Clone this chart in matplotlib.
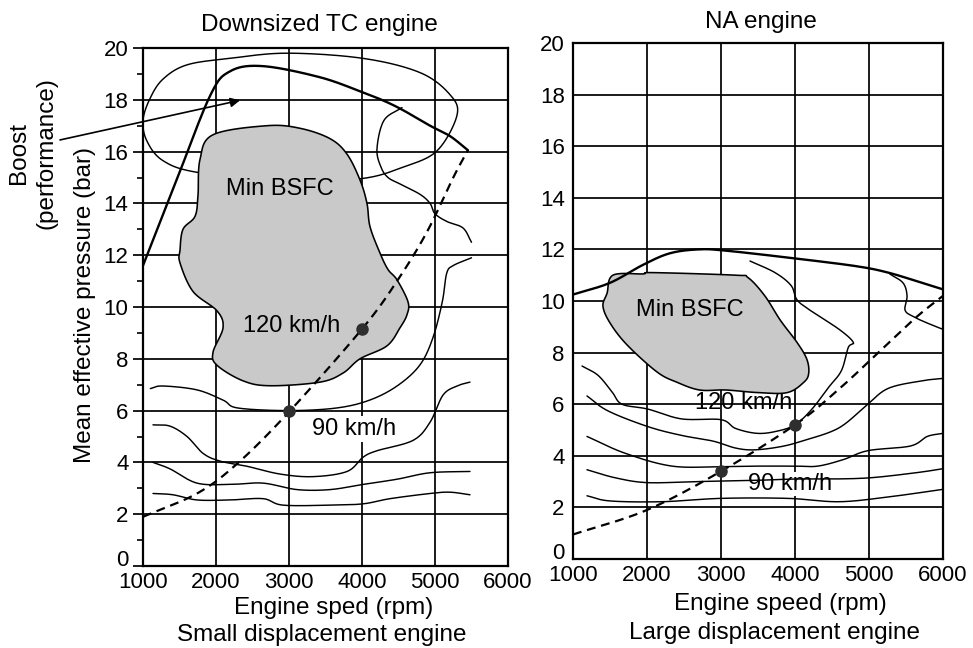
import numpy as np
import matplotlib
matplotlib.use("Agg")
import matplotlib.pyplot as plt
from matplotlib.patches import Polygon

plt.rcParams['font.family'] = ['Liberation Sans', 'DejaVu Sans']

# ---------------- Downsized turbocharged engine ----------------
tc_full_rpm = [1000, 1460, 1918, 2192, 2644, 3425, 4000, 4301, 4562, 4932, 5205, 5452]
tc_full_bmep = [11.6, 14.9, 18.15, 19.1, 19.3, 18.87, 18.3, 17.96, 17.6, 17.0, 16.6, 16.05]

tc_boost_rpm = [1000, 1096, 1274, 1603, 2192, 2973, 4014, 4795, 5205, 5301, 5027, 4562,
                3973, 2900, 1740, 1274, 1055]
tc_boost_bmep = [17.2, 18.05, 18.8, 19.35, 19.6, 19.8, 19.6, 19.05, 18.2, 17.4, 16.03, 15.4,
                 14.95, 14.85, 15.2, 15.65, 16.4]

tc_bsfc_rpm = [2699, 3151, 3562, 3795, 3973, 4068, 4110, 4247, 4356, 4479, 4630, 4616, 4521,
               4342, 3973, 3740, 3425, 2740, 2370, 2014, 1959, 2096, 2014, 1685, 1507, 1507,
               1548, 1712, 1753, 1781, 1959]
tc_bsfc_bmep = [17.0, 16.9, 16.5, 15.9, 14.9, 14.0, 13.1, 12.08, 11.45, 11.05, 10.2, 9.7, 9.2,
                8.5, 8.0, 7.45, 7.1, 6.96, 7.15, 7.75, 8.25, 9.2, 9.85, 10.6, 11.7, 12.2,
                13.0, 13.5, 14.3, 15.7, 16.65]

tc_road_rpm = [1000, 1740, 2290, 3000, 4000, 4480, 4890, 5250, 5450]
tc_road_bmep = [1.9, 2.8, 3.95, 5.95, 9.15, 11.0, 12.9, 15.0, 16.05]

tc_c1_rpm = [4548, 4300, 4205, 4260, 4356, 4521, 4795, 4932, 5000, 5164, 5384, 5500]
tc_c1_bmep = [17.7, 17.2, 16.1, 15.4, 15.0, 14.75, 14.35, 14.0, 13.6, 13.3, 13.05, 12.5]
tc_c2_rpm = [1100, 1270, 1740, 2100, 2300, 3000, 3650, 4100, 4480, 4790, 4970, 5100, 5160,
             5250, 5500]
tc_c2_bmep = [6.85, 6.95, 6.8, 6.4, 6.1, 6.0, 6.1, 6.4, 6.95, 7.75, 8.8, 10.2, 11.3, 11.6, 11.9]
tc_c3_rpm = [1137, 1370, 1603, 1822, 2055, 2425, 2877, 3329, 3795, 4014, 4205, 4699, 4932,
             5110, 5301, 5479]
tc_c3_bmep = [5.45, 5.4, 5.0, 4.35, 4.05, 3.85, 3.55, 3.45, 3.65, 4.2, 4.45, 4.85, 5.55,
              6.6, 6.95, 7.1]
tc_c4_rpm = [1137, 1370, 1740, 2192, 2644, 3110, 3562, 4014, 4479, 4932, 5479]
tc_c4_bmep = [4.0, 3.75, 3.2, 3.15, 3.2, 2.95, 2.95, 3.15, 3.35, 3.6, 3.65]
tc_c5_rpm = [1137, 1411, 1740, 2192, 2644, 2918, 3562, 4014, 4384, 4932, 5205, 5479]
tc_c5_bmep = [2.8, 2.75, 2.55, 2.55, 2.6, 2.35, 2.35, 2.4, 2.6, 2.8, 2.85, 2.75]

tc_speed_rpm = [4000, 3000]
tc_speed_bmep = [9.15, 6.0]
tc_speed_labels = ["120 km/h", "90 km/h"]

# ---------------- Naturally aspirated engine ----------------
na_full_rpm = [1000, 1497, 1945, 2310, 2700, 3070, 4000, 4826, 5260, 5720, 6000]
na_full_bmep = [10.25, 10.7, 11.4, 11.85, 12.0, 11.95, 11.65, 11.35, 11.1, 10.7, 10.45]

na_bsfc_rpm = [1460, 1540, 1946, 2081, 3197, 3368, 3592, 3803, 4026, 4159, 4185, 4119, 3895,
               3500, 3066, 2712, 2405, 2135, 1730, 1500, 1405]
na_bsfc_bmep = [10.3, 11.0, 11.05, 11.1, 11.0, 10.9, 10.2, 9.25, 8.4, 7.75, 7.2, 6.85, 6.45,
                6.45, 6.55, 6.55, 6.85, 7.25, 8.3, 9.15, 9.8]

na_road_rpm = [1000, 2000, 3000, 4000, 4600, 5200, 5650, 6000]
na_road_bmep = [0.95, 1.9, 3.4, 5.2, 6.6, 8.2, 9.4, 10.2]

na_c1_rpm = [1122, 1338, 1527, 1662, 2013, 2467, 3000, 3197, 3487, 3750, 4000, 4226, 4453,
             4627, 4720, 4787, 4597, 4199, 4026, 3947, 3730, 3392]
na_c1_bmep = [7.48, 7.12, 6.48, 6.0, 5.81, 5.43, 5.4, 5.06, 4.87, 4.95, 5.2, 5.8, 6.65,
              7.3, 8.2, 8.4, 8.9, 9.65, 10.05, 10.6, 11.1, 11.55]
na_c2_rpm = [1189, 1473, 2013, 2467, 2892, 3197, 3450, 3800, 4093, 4580, 4946, 5250, 5700, 6000]
na_c2_bmep = [6.32, 5.74, 5.13, 4.79, 4.57, 4.3, 4.23, 4.35, 4.57, 5.06, 5.9, 6.6, 6.9, 7.0]
na_c3_rpm = [1189, 1703, 2338, 3000, 3487, 4000, 4307, 4650, 4987, 5560, 5787, 6000]
na_c3_bmep = [4.75, 4.1, 3.6, 3.58, 3.6, 3.6, 3.6, 3.85, 4.2, 4.38, 4.75, 4.87]
na_c4_rpm = [1189, 1567, 2000, 2662, 3487, 4000, 4493, 5027, 5653, 6000]
na_c4_bmep = [3.46, 3.15, 2.96, 3.0, 3.05, 3.1, 3.1, 3.15, 3.35, 3.5]
na_c5_rpm = [1189, 1500, 2200, 3000, 3900, 4600, 5300, 6000]
na_c5_bmep = [2.45, 2.25, 2.22, 2.35, 2.35, 2.22, 2.42, 2.7]
na_c6_rpm = [5280, 5460, 5514, 5487, 5595, 5784, 6000]
na_c6_bmep = [11.05, 10.7, 10.2, 9.65, 9.4, 9.15, 8.9]

na_speed_rpm = [4000, 3000]
na_speed_bmep = [5.2, 3.4]
na_speed_labels = ["120 km/h", "90 km/h"]

x_ticks = [1000, 2000, 3000, 4000, 5000, 6000]
y_ticks = [0, 2, 4, 6, 8, 10, 12, 14, 16, 18, 20]

TICK_FS = 16
NOTE_FS = 17
LABEL_FS = 17.5


def smooth(xs, ys, closed=False, n=24):
    """Catmull-Rom curve through the given points."""
    p = np.column_stack([xs, ys]).astype(float)
    if closed:
        ext = np.vstack([p[-1], p, p[0], p[1]])
    else:
        ext = np.vstack([2 * p[0] - p[1], p, 2 * p[-1] - p[-2]])
    t = np.linspace(0, 1, n, endpoint=False)[:, None]
    segs = []
    for i in range(1, len(ext) - 2):
        p0, p1, p2, p3 = ext[i - 1], ext[i], ext[i + 1], ext[i + 2]
        segs.append(0.5 * (2 * p1 + (-p0 + p2) * t
                           + (2 * p0 - 5 * p1 + 4 * p2 - p3) * t ** 2
                           + (-p0 + 3 * p1 - 3 * p2 + p3) * t ** 3))
    segs.append(ext[-2][None])
    out = np.vstack(segs)
    return out[:, 0], out[:, 1]


def style_axes(ax, outer_ticks):
    ax.set_xlim(1000, 6000)
    ax.set_ylim(0, 20)
    ax.set_xticks(x_ticks)
    ax.set_yticks(y_ticks)
    ax.set_xticklabels([str(v) for v in x_ticks])
    ax.set_yticklabels([str(v) for v in y_ticks])
    ax.grid(True, color='black', linewidth=1.25)
    ax.set_axisbelow(True)
    for s in ax.spines.values():
        s.set_linewidth(1.6)
    ax.tick_params(axis='x', length=0, pad=4, labelsize=TICK_FS)
    if outer_ticks:
        ax.set_yticks(np.arange(1, 20, 2), minor=True)
        ax.tick_params(axis='y', which='major', direction='out', length=7.5,
                       width=1.25, pad=3, labelsize=TICK_FS)
        ax.tick_params(axis='y', which='minor', direction='out', length=4,
                       width=1.2)
    else:
        ax.tick_params(axis='y', length=0, pad=6, labelsize=TICK_FS)
    # the zero label sits on the baseline so it clears the rpm labels below
    for lab in ax.get_yticklabels():
        if lab.get_text() == '0':
            lab.set_verticalalignment('baseline')


fig = plt.figure(figsize=(9.73, 6.48), dpi=100)
ax1 = fig.add_axes([0.14697, 0.12654, 0.37513, 0.79938])
ax2 = fig.add_axes([0.58890, 0.13735, 0.38027, 0.79630])
style_axes(ax1, True)
style_axes(ax2, False)

thin = dict(color='black', linewidth=1.05, zorder=3, solid_capstyle='round')
thick = dict(color='black', linewidth=1.7, zorder=3, solid_capstyle='round')
dashed = dict(color='black', linewidth=1.6, zorder=4, linestyle=(0, (4, 2.6)))
blob_style = dict(facecolor='#c9c9c9', edgecolor='black', linewidth=1.15, zorder=2)

# ----- left panel -----
bx, by = smooth(tc_boost_rpm, tc_boost_bmep, closed=True)
ax1.plot(bx, by, color='black', linewidth=1.05, zorder=1.5)
fx, fy = smooth(tc_bsfc_rpm, tc_bsfc_bmep, closed=True)
ax1.add_patch(Polygon(np.column_stack([fx, fy]), closed=True, **blob_style))
ax1.plot(*smooth(tc_full_rpm, tc_full_bmep), **thick)
for xs, ys in [(tc_c1_rpm, tc_c1_bmep), (tc_c2_rpm, tc_c2_bmep), (tc_c3_rpm, tc_c3_bmep),
               (tc_c4_rpm, tc_c4_bmep), (tc_c5_rpm, tc_c5_bmep)]:
    ax1.plot(*smooth(xs, ys), **thin)
ax1.plot(*smooth(tc_road_rpm, tc_road_bmep), **dashed)
ax1.plot(tc_speed_rpm, tc_speed_bmep, 'o', color='#2e2e2e', markersize=8, zorder=5)
ax1.text(2370, 9.25, tc_speed_labels[0], fontsize=NOTE_FS, ha='left', va='center', zorder=6)
ax1.text(3315, 5.3, tc_speed_labels[1], fontsize=NOTE_FS, ha='left', va='center', zorder=1.8,
         bbox=dict(facecolor='white', edgecolor='none', pad=1.5))
ax1.text(2877, 14.55, "Min BSFC", fontsize=NOTE_FS, ha='center', va='center', zorder=6)
ax1.annotate("", xy=(2329, 17.98), xytext=(-137, 16.45), annotation_clip=False,
             arrowprops=dict(arrowstyle='-|>', color='black', lw=1.2,
                             mutation_scale=14, shrinkA=0, shrinkB=0), zorder=4)

# ----- right panel -----
gx, gy = smooth(na_bsfc_rpm, na_bsfc_bmep, closed=True)
ax2.add_patch(Polygon(np.column_stack([gx, gy]), closed=True, **blob_style))
ax2.plot(*smooth(na_full_rpm, na_full_bmep), **thick)
for xs, ys in [(na_c1_rpm, na_c1_bmep), (na_c2_rpm, na_c2_bmep), (na_c3_rpm, na_c3_bmep),
               (na_c4_rpm, na_c4_bmep), (na_c5_rpm, na_c5_bmep), (na_c6_rpm, na_c6_bmep)]:
    ax2.plot(*smooth(xs, ys), **thin)
ax2.plot(*smooth(na_road_rpm, na_road_bmep), **dashed)
ax2.plot(na_speed_rpm, na_speed_bmep, 'o', color='#2e2e2e', markersize=8, zorder=5)
ax2.text(3307, 6.05, na_speed_labels[0], fontsize=NOTE_FS, ha='center', va='center', zorder=1.8)
ax2.text(3368, 2.9, na_speed_labels[1], fontsize=NOTE_FS, ha='left', va='center', zorder=1.8,
         bbox=dict(facecolor='white', edgecolor='none', pad=0.5))
ax2.text(2581, 9.65, "Min BSFC", fontsize=NOTE_FS, ha='center', va='center', zorder=6)

# ----- titles and axis labels -----
fig.text(0.3279, 0.9614, "Downsized TC engine", fontsize=LABEL_FS, ha='center', va='center')
fig.text(0.7821, 0.966, "NA engine", fontsize=LABEL_FS, ha='center', va='center')
fig.text(0.3433, 0.0617, "Engine sped (rpm)", fontsize=LABEL_FS, ha='center', va='center')
fig.text(0.3309, 0.0201, "Small displacement engine", fontsize=LABEL_FS, ha='center', va='center')
fig.text(0.8016, 0.0679, "Engine speed (rpm)", fontsize=LABEL_FS, ha='center', va='center')
fig.text(0.7955, 0.0231, "Large displacement engine", fontsize=LABEL_FS, ha='center', va='center')
fig.text(0.0874, 0.529, "Mean effective pressure (bar)", fontsize=LABEL_FS, rotation=90,
         ha='center', va='center')
fig.text(0.0195, 0.764, "Boost", fontsize=LABEL_FS, rotation=90, ha='center', va='center')
fig.text(0.0483, 0.764, "(performance)", fontsize=LABEL_FS, rotation=90, ha='center',
         va='center')

fig.savefig("out.png", dpi=100, facecolor='white')
